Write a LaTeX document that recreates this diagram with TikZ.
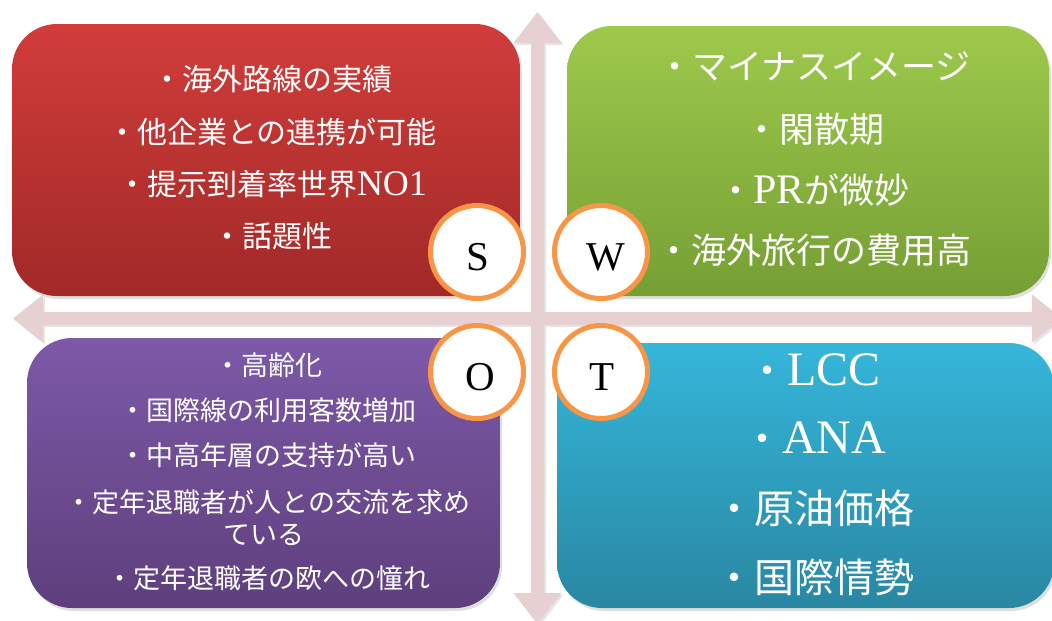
\documentclass[tikz,border=0pt]{standalone}
\usepackage{fontspec}
\setmainfont{Liberation Serif}
\newfontfamily\jpfont{Noto Sans CJK JP}
\usetikzlibrary{shadows}
\definecolor{arrowpink}{RGB}{230,208,210}
\definecolor{ringorange}{RGB}{247,150,70}
\definecolor{redtop}{RGB}{209,61,58}
\definecolor{redbot}{RGB}{161,41,40}
\definecolor{greentop}{RGB}{158,201,76}
\definecolor{greenbot}{RGB}{118,159,52}
\definecolor{purptop}{RGB}{125,89,168}
\definecolor{purpbot}{RGB}{94,63,124}
\definecolor{bluetop}{RGB}{53,182,218}
\definecolor{bluebot}{RGB}{41,135,162}
\newcommand\lat[2]{{\rmfamily\fontsize{#1}{#1}\selectfont #2}}
\begin{document}
\begin{tikzpicture}[x=1pt,y=-1pt,
  quad/.style={rectangle, rounded corners=45pt, inner sep=0pt, draw=none,
     drop shadow={opacity=0.25, shadow xshift=2pt, shadow yshift=-3pt}},
  ring/.style={circle, draw=ringorange, line width=5pt, fill=white, minimum size=93pt, inner sep=0pt},
  letter/.style={inner sep=0pt, text=black, font=\fontsize{41}{41}\selectfont},
  txt/.style={inner sep=0pt, anchor=base, text=white},
  sTxt/.style={txt, font=\jpfont\fontsize{30}{30}\selectfont},
  wTxt/.style={txt, font=\jpfont\fontsize{35}{35}\selectfont},
  oTxt/.style={txt, font=\jpfont\fontsize{27}{27}\selectfont},
  tTxt/.style={txt, font=\jpfont\fontsize{40}{40}\selectfont}
]
\useasboundingbox (0,0) rectangle (1052,621);
\clip (0,0) rectangle (1052,621);

% cross arrows
\fill[arrowpink, drop shadow={opacity=0.2, shadow xshift=2pt, shadow yshift=-2pt}]
  (537.5,12) -- (561.5,43) -- (544,43) -- (544,593) -- (561.5,593) -- (537.5,624)
  -- (513.5,593) -- (531,593) -- (531,43) -- (513.5,43) -- cycle
  (13,318.5) -- (43,294.5) -- (43,312) -- (1032,312) -- (1032,294.5) -- (1062,318.5)
  -- (1032,342.5) -- (1032,325) -- (43,325) -- (43,342.5) -- cycle;

% quadrant boxes
\node[quad, top color=redtop, bottom color=redbot, minimum width=508pt, minimum height=272pt] (Sbox) at (266,160) {};
\node[quad, top color=greentop, bottom color=greenbot, minimum width=482pt, minimum height=270pt] (Wbox) at (808,161) {};
\node[quad, top color=purptop, bottom color=purpbot, minimum width=473pt, minimum height=270pt] (Obox) at (263.5,473) {};
\node[quad, top color=bluetop, bottom color=bluebot, minimum width=497pt, minimum height=265pt] (Tbox) at (805.5,475.5) {};

% S texts
\node[sTxt] (s1) at (272,90.4) {・海外路線の実績};
\node[sTxt] (s2) at (272,143.9) {・他企業との連携が可能};
\node[sTxt] (s3) at (272,195.4) {・提示到着率世界\lat{36}{NO1}};
\node[sTxt] (s4) at (272,247.9) {・話題性};

% W texts
\node[wTxt] (w1) at (814,79.3) {・マイナスイメージ};
\node[wTxt] (w2) at (814,142.3) {・閑散期};
\node[wTxt] (w3) at (814,203.3) {・\lat{42}{PR}が微妙};
\node[wTxt] (w4) at (814,263.3) {・海外旅行の費用高};

% O texts
\node[oTxt] (o1) at (268,375.3) {・高齢化};
\node[oTxt] (o2) at (268,420.3) {・国際線の利用客数増加};
\node[oTxt] (o3) at (268,465.3) {・中高年層の支持が高い};
\node[oTxt] (o4) at (268,512.3) {・定年退職者が人との交流を求め};
\node[oTxt] (o5) at (264,544.3) {ている};
\node[oTxt] (o6) at (268,588.3) {・定年退職者の欧への憧れ};

% T texts
\node[tTxt] (t1) at (814,385) {・\lat{48}{LCC}};
\node[tTxt] (t2) at (814,453) {・\lat{48}{ANA}};
\node[tTxt] (t3) at (814,523.2) {・原油価格};
\node[tTxt] (t4) at (814,592.2) {・国際情勢};

% SWOT circles
\node[ring] (Sc) at (477,252) {};
\node[ring] (Wc) at (601,252) {};
\node[ring] (Oc) at (477,372) {};
\node[ring] (Tc) at (601,372) {};
\node[letter] (Sl) at (477.5,257) {S};
\node[letter] (Wl) at (606,257) {W};
\node[letter] (Ol) at (480,377) {O};
\node[letter] (Tl) at (602,377) {T};
\end{tikzpicture}
\end{document}
